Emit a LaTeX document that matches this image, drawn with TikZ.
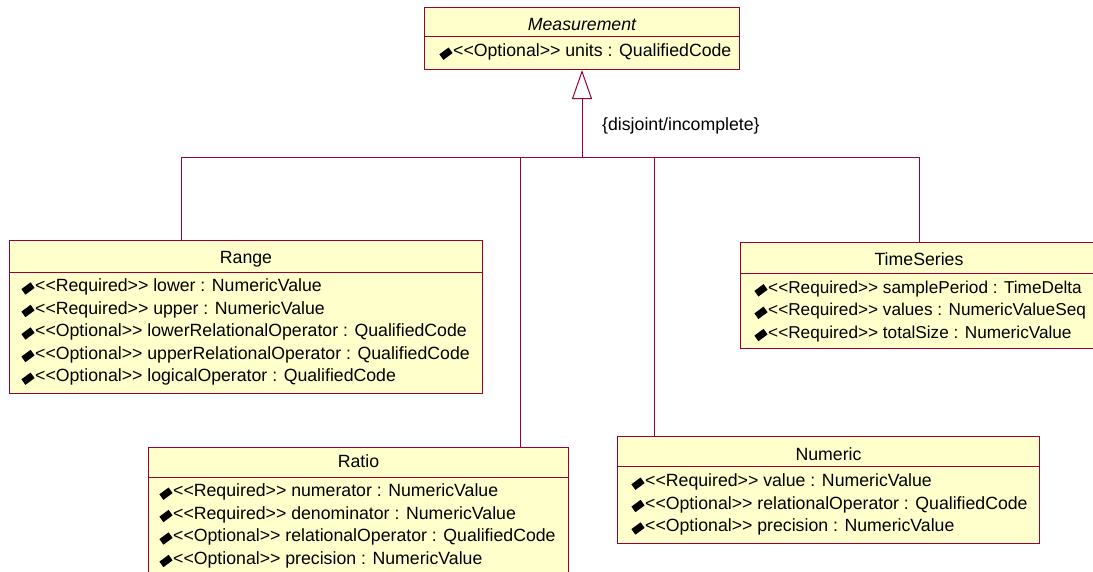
\documentclass[tikz,border=0pt]{standalone}
\usepackage{fontspec}
\setmainfont{Liberation Sans}[Ligatures=TeXOff]
\usetikzlibrary{arrows.meta}
\definecolor{umlred}{RGB}{153,0,51}
\definecolor{umlfill}{RGB}{255,255,204}
\tikzset{
  classbox/.style={draw=umlred, fill=umlfill, line width=1pt, rectangle, inner sep=0pt, anchor=north west},
  umlline/.style={draw=umlred, line width=1pt},
  txt/.style={inner sep=0pt, font=\fontsize{17.7}{20}\selectfont, text=black},
  attrtext/.style={txt, anchor=base west},
  titletext/.style={txt, anchor=base},
  gen/.style={umlline, -{Triangle[open, length=29pt, width=20pt, fill=white]}},
}
\newcommand\attr[4]{%
  \node[attrtext] (#1) at (#2,#3) {#4};
  \fill[black] ([xshift=-7pt,yshift=3pt]#1.base west) +(6.6,-0.6) -- +(2.6,-6.2) -- +(-6.6,0.6) -- +(-2.6,6.2) -- cycle;
}
\newcommand\tsfont{\fontsize{17.2}{20}\selectfont}
\begin{document}
\begin{tikzpicture}[x=1pt,y=-1pt]
\useasboundingbox (0,0) rectangle (1093,571);
\fill[white] (0,0) rectangle (1093,571);

% Measurement
\node[classbox, minimum width=315, minimum height=62] (meas) at (424,7) {};
\draw[umlline] (meas.north west |- 0,36) -- (meas.north east |- 0,36);
\node[titletext, font=\fontsize{17.7}{20}\selectfont\itshape] (meastitle) at (meas.north |- 0,30) {Measurement};
\attr{m1}{453}{56.7}{<<Optional>> units : QualifiedCode}

% Range
\node[classbox, minimum width=473, minimum height=153] (range) at (9,240) {};
\draw[umlline] (range.north west |- 0,272) -- (range.north east |- 0,272);
\node[titletext] (rangetitle) at (range.north |- 0,263.3) {Range};
\attr{r1}{35}{291.5}{<<Required>> lower : NumericValue}
\attr{r2}{35}{314}{<<Required>> upper : NumericValue}
\attr{r3}{35}{336.5}{<<Optional>> lowerRelationalOperator : QualifiedCode}
\attr{r4}{35}{359}{<<Optional>> upperRelationalOperator : QualifiedCode}
\attr{r5}{35}{381.7}{<<Optional>> logicalOperator : QualifiedCode}

% TimeSeries
\node[classbox, minimum width=370, minimum height=106] (ts) at (740,242) {};
\draw[umlline] (ts.north west |- 0,273) -- (ts.north east |- 0,273);
\node[titletext] (tstitle) at (919,265) {TimeSeries};
\attr{t1}{768}{293.3}{\tsfont <<Required>> samplePeriod : TimeDelta}
\attr{t2}{768}{315.8}{\tsfont <<Required>> values : NumericValueSeq}
\attr{t3}{768}{338}{\tsfont <<Required>> totalSize : NumericValue}

% Ratio
\node[classbox, minimum width=420, minimum height=140] (ratio) at (148,447) {};
\draw[umlline] (ratio.north west |- 0,477) -- (ratio.north east |- 0,477);
\node[titletext] (ratiotitle) at (ratio.north |- 0,467.7) {Ratio};
\attr{q1}{173}{496.7}{<<Required>> numerator : NumericValue}
\attr{q2}{173}{519}{<<Required>> denominator : NumericValue}
\attr{q3}{173}{541.5}{<<Optional>> relationalOperator : QualifiedCode}
\attr{q4}{173}{564}{<<Optional>> precision : NumericValue}

% Numeric
\node[classbox, minimum width=422, minimum height=107] (num) at (617,436) {};
\draw[umlline] (num.north west |- 0,466) -- (num.north east |- 0,466);
\node[titletext] (numtitle) at (num.north |- 0,460) {Numeric};
\attr{n1}{645}{486.7}{<<Required>> value : NumericValue}
\attr{n2}{645}{509}{<<Optional>> relationalOperator : QualifiedCode}
\attr{n3}{645}{531.5}{<<Optional>> precision : NumericValue}

% generalization tree
\coordinate (bus) at (meas.south |- 0,157);
\coordinate (bL) at (181,157);
\coordinate (bR) at (919,157);
\coordinate (bRatio) at (520,157);
\coordinate (bNum) at (654,157);
\draw[gen] (bus) -- (meas.south);
\draw[umlline] (bL) -- (bR);
\draw[umlline] (bL) -- (bL |- range.north);
\draw[umlline] (bRatio) -- (bRatio |- ratio.north);
\draw[umlline] (bNum) -- (bNum |- num.north);
\draw[umlline] (bR) -- (bR |- ts.north);
\node[attrtext] (constraint) at (602,130.5) {\{disjoint/incomplete\}};
\end{tikzpicture}
\end{document}
